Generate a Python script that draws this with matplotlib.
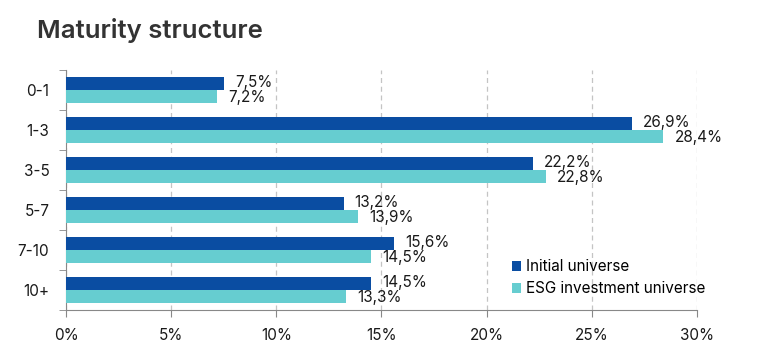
import numpy as np
import matplotlib.pyplot as plt
from matplotlib.ticker import FixedLocator

plt.rcParams['font.family'] = ['Inter', 'DejaVu Sans']

# データ
categories = ['0-1', '1-3', '3-5', '5-7', '7-10', '10+']
initial_universe = [7.5, 26.9, 22.2, 13.2, 15.6, 14.5]
esg_universe = [7.2, 28.4, 22.8, 13.9, 14.5, 13.3]
xticks = [0, 5, 10, 15, 20, 25, 30]

dark_blue = '#0a4da2'
teal = '#66cdd0'
fs = 11

fig = plt.figure(figsize=(7.57, 3.61), dpi=100)
ax = fig.add_axes([0.0872, 0.141, 0.8335, 0.665])

y = np.arange(len(categories))
h = 0.325
ax.barh(y - h / 2, initial_universe, height=h, color=dark_blue, label='Initial universe', zorder=3)
ax.barh(y + h / 2, esg_universe, height=h, color=teal, label='ESG investment universe', zorder=3)

# 値ラベル（参照図でも上下のラベルが少し重なっている）
for yi, v in zip(y, initial_universe):
    ax.annotate(f'{v:.1f}%'.replace('.', ','), (v, yi - h / 2), xytext=(8, 0.5),
                textcoords='offset points', va='center', ha='left', fontsize=fs, color='#1a1a1a')
for yi, v in zip(y, esg_universe):
    ax.annotate(f'{v:.1f}%'.replace('.', ','), (v, yi + h / 2), xytext=(8, -0.5),
                textcoords='offset points', va='center', ha='left', fontsize=fs, color='#1a1a1a')

ax.set_xlim(0, 30)
ax.set_ylim(len(categories) - 0.5, -0.5)
ax.set_xticks(xticks)
ax.set_xticklabels([f'{t}%' for t in xticks], fontsize=fs, color='#1a1a1a')
ax.set_yticks(y)
ax.set_yticklabels(categories, fontsize=fs, color='#1a1a1a')
ax.yaxis.set_minor_locator(FixedLocator(np.arange(-0.5, len(categories), 1)))
ax.tick_params(axis='y', which='major', length=0, pad=12)
ax.tick_params(axis='y', which='minor', length=5, color='#888888')
ax.tick_params(axis='x', length=5, color='#888888', pad=8)

ax.grid(axis='x', linestyle=(0, (4, 3)), color='#c4c4c4', linewidth=0.9, zorder=0)
for s in ['top', 'right']:
    ax.spines[s].set_visible(False)
for s in ['left', 'bottom']:
    ax.spines[s].set_color('#888888')

ax.legend(loc='lower right', bbox_to_anchor=(1.035, 0.0), frameon=False, fontsize=fs,
          handlelength=0.6, handleheight=0.6, handletextpad=0.3, labelspacing=0.45)

fig.text(0.049, 0.915, 'Maturity structure', fontsize=18.5, fontweight='semibold',
         color='#333333', va='center', ha='left')

fig.savefig('out.png', dpi=100)
